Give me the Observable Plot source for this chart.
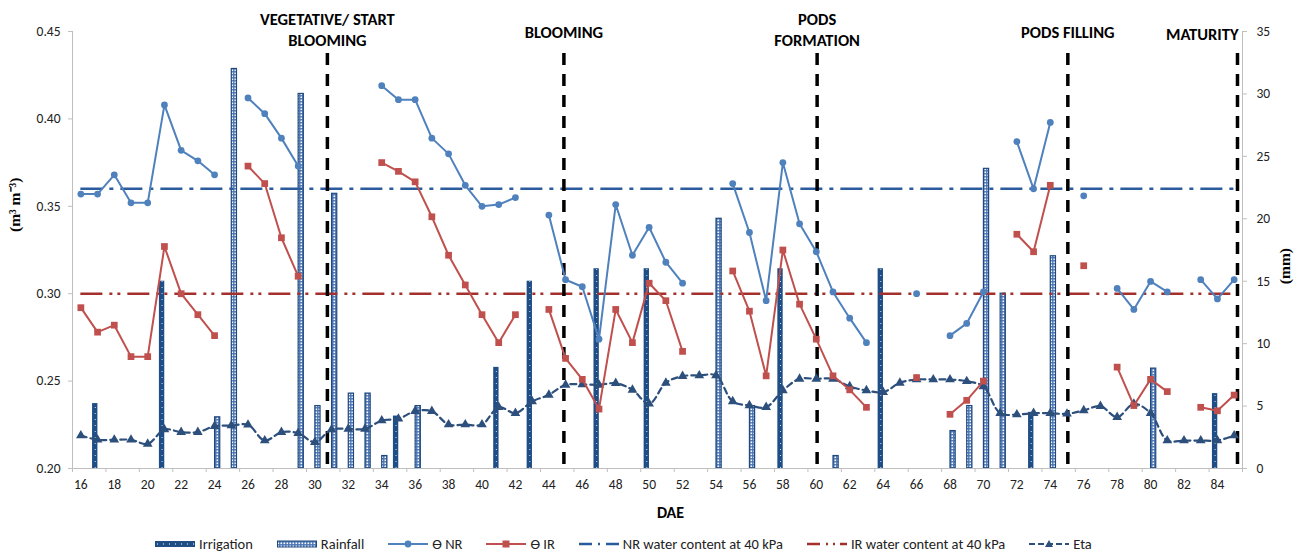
<!DOCTYPE html>
<html><head><meta charset="utf-8">
<script src="https://cdn.jsdelivr.net/npm/d3@7"></script>
<script src="https://cdn.jsdelivr.net/npm/@observablehq/plot@0.6"></script>
<style>
body{margin:0;background:#fff;font-family:Carlito, Lato, sans-serif;}
#legend{display:flex;align-items:center;height:18px;padding-left:155px;font-size:14.5px;color:#222;white-space:nowrap;}
#legend .it{display:flex;align-items:center;margin-right:24px;}
#legend svg{margin-right:4px;overflow:visible;}
</style></head><body>
<div id="chart"></div>
<div id="legend"></div>
<script>
// ---- data ----
const days = [16,17,18,19,20,21,22,23,24,25,26,27,28,29,30,31,32,33,34,35,36,37,38,39,40,41,42,43,44,45,46,47,48,49,50,51,52,53,54,55,56,57,58,59,60,61,62,63,64,65,66,67,68,69,70,71,72,73,74,75,76,77,78,79,80,81,82,83,84,85];
const thetaNR = [0.357,0.357,0.368,0.352,0.352,0.408,0.382,0.376,0.368,null,
  0.412,0.403,0.389,0.373,null,null,null,null,0.419,0.411,
  0.411,0.389,0.380,0.362,0.350,0.351,0.355,null,0.345,0.308,
  0.304,0.274,0.351,0.322,0.338,0.318,0.306,null,null,0.363,
  0.335,0.296,0.375,0.340,0.324,0.301,0.286,0.272,null,null,
  0.300,null,0.276,0.283,0.301,null,0.387,0.360,0.398,null,
  0.356,null,0.303,0.291,0.307,0.301,null,0.308,0.297,0.308];
const thetaIR = [0.292,0.278,0.282,0.264,0.264,0.327,0.300,0.288,0.276,null,
  0.373,0.363,0.332,0.310,null,null,null,null,0.375,0.370,
  0.364,0.344,0.322,0.305,0.288,0.272,0.288,null,0.291,0.263,
  0.251,0.234,0.291,0.272,0.306,0.296,0.267,null,null,0.313,
  0.290,0.253,0.325,0.294,0.274,0.253,0.245,0.235,null,null,
  0.252,null,0.231,0.239,0.250,null,0.334,0.324,0.362,null,
  0.316,null,0.258,0.236,0.251,0.244,null,0.235,0.233,0.242];
const eta = [2.64,2.30,2.30,2.30,1.97,3.12,2.91,2.91,3.39,3.44,
  3.50,2.24,2.91,2.83,2.11,3.12,3.17,3.17,3.84,3.98,
  4.59,4.59,3.52,3.52,3.52,4.91,4.43,5.37,5.90,6.70,
  6.73,6.70,6.83,6.30,5.18,6.86,7.40,7.45,7.45,5.37,
  5.05,4.91,6.25,7.18,7.18,7.18,6.57,6.25,6.11,6.86,
  7.13,7.13,7.13,6.99,6.57,4.43,4.32,4.43,4.43,4.38,
  4.65,4.99,4.11,5.18,4.43,2.24,2.24,2.24,2.24,2.64];
const irrDays = [17,21,35,41,43,47,50,58,64,73,84];
const irrMm   = [5.2,15,4.2,8.1,15,16,16,16,16,4.5,6];
const rainDays = [24,25,29,30,31,32,33,34,36,54,56,61,68,69,70,71,74,80];
const rainMm   = [4.1,32,30,5,22,6,6,1,5,20,5,1,3,5,24,14,17,8];
const stageDays  = [30.75,44.9,60.05,75.05,85.2];
const stageNames = ["VEGETATIVE/ START\nBLOOMING","BLOOMING","PODS\nFORMATION","PODS FILLING","MATURITY"];
const nrThreshold = 0.36;
const irThreshold = 0.30;
const xTicks = [16,18,20,22,24,26,28,30,32,34,36,38,40,42,44,46,48,50,52,54,56,58,60,62,64,66,68,70,72,74,76,78,80,82,84];
const leftTicks = [0.20,0.25,0.30,0.35,0.40,0.45];
const rightTicks = [0,5,10,15,20,25,30,35];
const legendNames = ["Irrigation","Rainfall","ϴ NR","ϴ IR","NR water content at 40 kPa","IR water content at 40 kPa","Eta"];

// ---- scales alignment ----
const leftDomain = [leftTicks[0], leftTicks[leftTicks.length-1]];
const rightDomain = [rightTicks[0], rightTicks[rightTicks.length-1]];
const k = (leftDomain[1]-leftDomain[0])/(rightDomain[1]-rightDomain[0]);
const toLeft = mm => leftDomain[0] + mm*k;
const fromLeft = v => (v-leftDomain[0])/k;
const xDomain = [days[0]-0.5, days[days.length-1]+0.5];

const rows = days.map((d,i)=>({day:d, nr:thetaNR[i], ir:thetaIR[i], eta:toLeft(eta[i])}));
const irr = irrDays.map((d,i)=>({day:d, v:toLeft(irrMm[i])}));
const rain = rainDays.map((d,i)=>({day:d, v:toLeft(rainMm[i])}));
const stages = stageDays.map((d,i)=>({day:d, name:stageNames[i]}));
const boundaries = [...xTicks.map(t=>t-0.5), xDomain[1]];

const C = {irr:"#1F4E86", rainStroke:"#1F497D", nr:"#4F81BD", ir:"#C0504D", nr40:"#2A5B9C", ir40:"#A3302C", eta:"#2D4F7C", axis:"#BFBFBF", text:"#222"};
const nrDash = "22,7,4,7", irDash = "22,7,3,5,3,7", etaDash = "6,4";
const stageFont = 16.5;

const W = 1301, H = 535;
const chart = Plot.plot({
  width: W, height: H,
  marginLeft: 72, marginRight: 59, marginTop: 31, marginBottom: H-468,
  x: {domain: xDomain},
  y: {domain: leftDomain},
  style: {fontFamily: "Carlito, Lato, sans-serif", fontSize: "13.5px", color: C.text, background: "white", overflow: "visible"},
  marks: [
    Plot.rect(irr, {x1: d=>d.day-0.3, x2: d=>d.day+0.02, y1: leftDomain[0], y2: "v", fill: C.irr}),
    Plot.ruleX(irr, {x: d=>d.day-0.14, y1: leftDomain[0], y2: "v", stroke: "white", strokeWidth: 1, strokeDasharray: "1,5", strokeOpacity: 0.8}),
    Plot.rect(rain, {x1: d=>d.day+0.03, x2: d=>d.day+0.34, y1: leftDomain[0], y2: "v", fill: "url(#rainHatch)", stroke: C.rainStroke, strokeWidth: 1.2}),
    Plot.ruleY([leftDomain[0]], {stroke: C.axis}),
    Plot.ruleX([xDomain[0]], {stroke: C.axis}),
    Plot.ruleX([xDomain[1]], {stroke: C.axis}),
    Plot.ruleY([nrThreshold], {x1: days[0], x2: days[days.length-1], stroke: C.nr40, strokeWidth: 2.5, strokeDasharray: nrDash}),
    Plot.ruleY([irThreshold], {x1: days[0], x2: days[days.length-1], stroke: C.ir40, strokeWidth: 2.5, strokeDasharray: irDash}),
    Plot.ruleX(stages, {x: "day", insetTop: 22, stroke: "#000", strokeWidth: 3.5, strokeDasharray: "12,9"}),
    Plot.line(rows, {x: "day", y: "eta", curve: "catmull-rom", stroke: C.eta, strokeWidth: 2.2, strokeDasharray: etaDash}),
    Plot.dot(rows, {x: "day", y: "eta", symbol: "triangle", r: 3.6, fill: C.eta}),
    Plot.line(rows, {x: "day", y: "nr", stroke: C.nr, strokeWidth: 2}),
    Plot.dot(rows, {x: "day", y: "nr", r: 3.4, fill: C.nr}),
    Plot.line(rows, {x: "day", y: "ir", stroke: C.ir, strokeWidth: 2}),
    Plot.dot(rows, {x: "day", y: "ir", symbol: "square", r: 3.8, fill: C.ir}),
    Plot.axisX({ticks: xTicks, tickSize: 0, tickPadding: 11, label: null, fill: C.text}),
    Plot.axisX({ticks: boundaries, tickSize: 4, tickFormat: () => "", stroke: C.axis, label: null}),
    Plot.axisY({ticks: leftTicks, tickFormat: d3.format(".2f"), tickSize: 4, tickPadding: 8, stroke: C.axis, fill: C.text, label: null}),
    Plot.axisY({anchor: "right", ticks: rightTicks.map(toLeft), tickFormat: d => String(Math.round(fromLeft(d))), tickSize: 4, tickPadding: 10, stroke: C.axis, fill: C.text, label: null}),
    Plot.text(["(m³ m⁻³)"], {text: d=>d, frameAnchor: "left", dx: -57, dy: -18, rotate: -90, fontFamily: "Liberation Serif, serif", fontWeight: "bold", fontSize: 15.5, fill: "#000"}),
    Plot.text(["(mm)"], {text: d=>d, frameAnchor: "right", dx: 43, dy: -2, rotate: -90, fontFamily: "Liberation Serif, serif", fontWeight: "bold", fontSize: 15.5, fill: "#000"}),
    Plot.text(["DAE"], {text: d=>d, frameAnchor: "bottom", dx: 13, dy: 49, fontWeight: "bold", fontSize: 16, fill: "#000"}),
    Plot.text(stages.filter(d=>d.name.includes("\n")), {x: "day", text: "name", frameAnchor: "top", dy: -3, lineAnchor: "middle", lineHeight: 1.33, fontWeight: "bold", fontSize: stageFont, fill: "#000"}),
    Plot.text(stages.filter((d,i)=>!d.name.includes("\n") && i<stages.length-1), {x: "day", text: "name", frameAnchor: "top", dy: 1, lineAnchor: "middle", fontWeight: "bold", fontSize: stageFont, fill: "#000"}),
    Plot.text(stages.slice(-1), {x: "day", text: "name", frameAnchor: "top", dy: 3, dx: 1, textAnchor: "end", lineAnchor: "middle", fontWeight: "bold", fontSize: stageFont, fill: "#000"})
  ]
});

// pattern defs
const defs = d3.select(chart).insert("defs", ":first-child");
const pat = defs.append("pattern").attr("id","rainHatch").attr("patternUnits","userSpaceOnUse").attr("width",3).attr("height",3);
pat.append("rect").attr("width",3).attr("height",3).attr("fill","#4A74B4");
pat.append("rect").attr("x",0.5).attr("y",0.5).attr("width",1.6).attr("height",1.6).attr("fill","#ffffff");
document.getElementById("chart").appendChild(chart);

// legend
const swatches = [
  `<rect x="0" y="2" width="40" height="6" fill="${C.irr}"/><line x1="2" x2="40" y1="5" y2="5" stroke="white" stroke-dasharray="1,5"/>`,
  `<rect x="0.5" y="2" width="39" height="6" fill="url(#rainHatch)" stroke="${C.rainStroke}"/>`,
  `<line x1="0" x2="40" y1="5" y2="5" stroke="${C.nr}" stroke-width="2"/><circle cx="20" cy="5" r="3.4" fill="${C.nr}"/>`,
  `<line x1="0" x2="40" y1="5" y2="5" stroke="${C.ir}" stroke-width="2"/><rect x="16.5" y="1.5" width="7" height="7" fill="${C.ir}"/>`,
  `<line x1="0" x2="40" y1="5" y2="5" stroke="${C.nr40}" stroke-width="2.5" stroke-dasharray="13,6,2,6"/>`,
  `<line x1="0" x2="40" y1="5" y2="5" stroke="${C.ir40}" stroke-width="2.5" stroke-dasharray="13,6,2,5,2,5"/>`,
  `<line x1="0" x2="40" y1="5" y2="5" stroke="${C.eta}" stroke-width="2" stroke-dasharray="6,3"/><path d="M20,1 L24,8 L16,8 Z" fill="${C.eta}"/>`
];
const lg = document.getElementById("legend");
legendNames.forEach((n,i)=>{
  const it = document.createElement("div"); it.className="it";
  it.innerHTML = `<svg width="40" height="10">${swatches[i]}</svg><span>${n}</span>`;
  lg.appendChild(it);
});
</script>
</body></html>
